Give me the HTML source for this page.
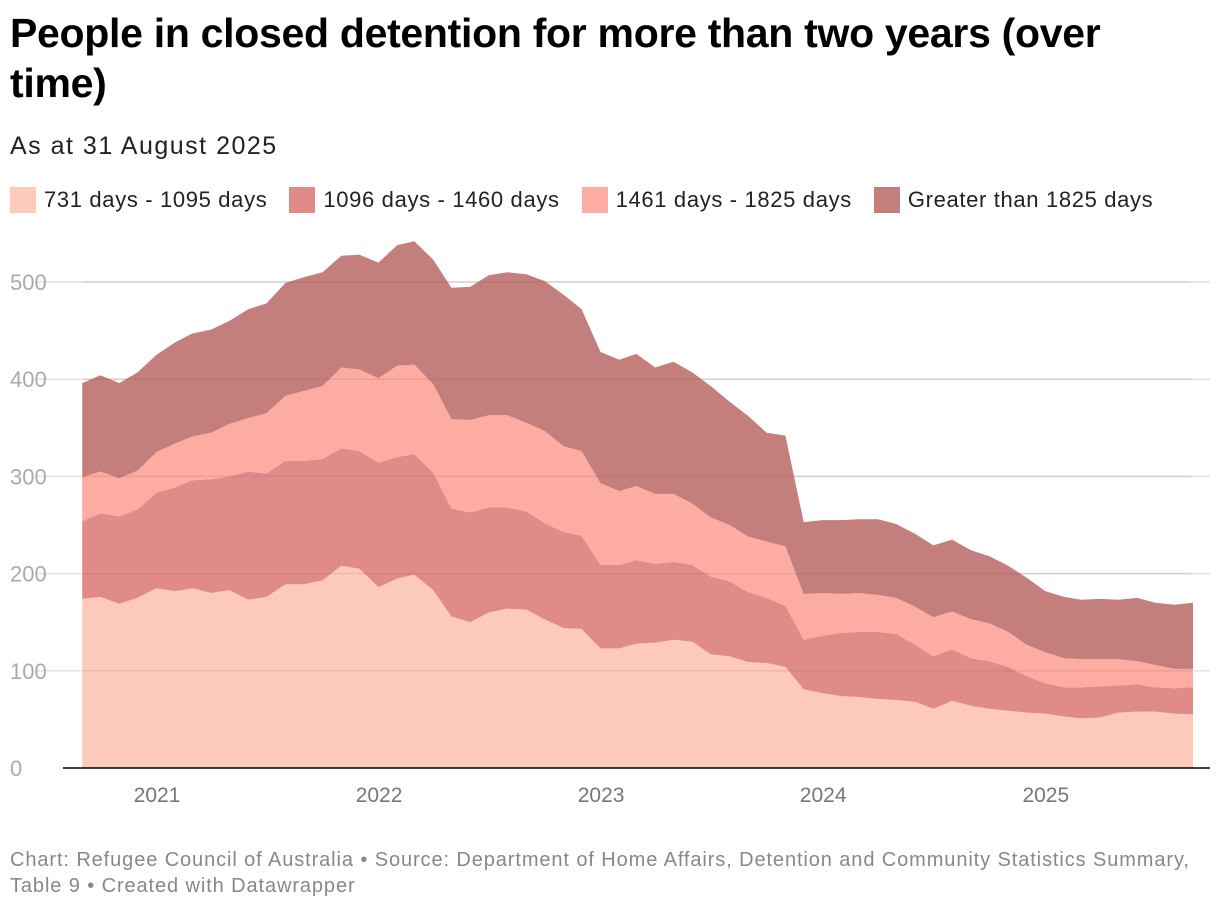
<!DOCTYPE html>
<html><head><meta charset="utf-8"><style>
body{margin:0;background:#fff;font-family:"Liberation Sans",sans-serif;width:1220px;height:910px;overflow:hidden;position:relative}
h1{position:absolute;left:10px;top:8px;margin:0;font-size:41px;line-height:50px;font-weight:bold;color:#000;width:1180px;letter-spacing:-0.3px}
.sub{position:absolute;left:10px;top:132px;font-size:25px;color:#222;letter-spacing:1.5px}
.legend{position:absolute;left:10px;top:187px;font-size:22px;color:#222;display:flex;letter-spacing:0.65px}
.le{display:flex;align-items:center;margin-right:22px}
.sw{width:26px;height:26px;margin-right:8px}
.foot{position:absolute;left:10px;top:847px;font-size:20px;line-height:26px;color:#888;letter-spacing:0.9px;white-space:nowrap}
svg{position:absolute;left:0;top:0}
</style></head><body>
<h1>People in closed detention for more than two years (over time)</h1>
<div class="sub">As at 31 August 2025</div>
<div class="legend">
<div class="le"><div class="sw" style="background:#fdc9b9"></div>731 days - 1095 days</div>
<div class="le"><div class="sw" style="background:#e18b89"></div>1096 days - 1460 days</div>
<div class="le"><div class="sw" style="background:#fdaca2"></div>1461 days - 1825 days</div>
<div class="le"><div class="sw" style="background:#c47e7c"></div>Greater than 1825 days</div>
</div>
<svg id="chart" width="1220" height="910"></svg>
<div class="foot">Chart: Refugee Council of Australia • Source: Department of Home Affairs, Detention and Community Statistics Summary,<br>Table 9 • Created with Datawrapper</div>
<script>
const s1=[174,176,169,175,185,182,185,180,183,173,176,189,189,193,208,205,186,195,199,183,156,150,160,164,163,153,144,143,123,123,128,129,132,130,117,115,109,108,104,81,77,74,73,71,70,68,61,69,64,61,59,57,56,53,51,52,57,58,58,56,55];
const s2=[80,86,90,91,98,107,111,117,117,132,127,127,127,125,121,121,128,125,124,121,111,113,108,104,101,99,99,96,86,86,86,81,80,79,80,77,72,67,63,51,59,65,67,69,68,59,54,53,49,49,45,38,31,30,32,32,28,28,25,26,28];
const s3=[45,43,39,40,42,45,45,48,54,55,62,67,72,75,83,84,87,94,92,91,92,95,95,95,91,95,88,87,84,76,76,72,70,63,61,58,57,58,61,47,44,40,40,38,37,39,40,39,40,39,36,32,32,30,29,28,27,24,23,20,19];
const s4=[97,99,98,101,100,104,106,106,106,112,113,116,117,117,115,118,119,124,127,128,135,137,144,147,153,154,156,146,135,135,136,130,136,135,135,127,124,112,114,74,75,76,76,78,76,75,74,74,71,69,68,69,63,63,61,62,61,65,64,66,68];
const yTicks=[0,100,200,300,400,500];
const xTicks=[2021,2022,2023,2024,2025];
const series=[s1,s2,s3,s4];
const colors=["#fdc9b9","#e18b89","#fdaca2","#c47e7c"];
const names=["series-731-1095","series-1096-1460","series-1461-1825","series-over-1825"];
const dates=s1.map((_,i)=>new Date(2020,8+i,0));
const t0=new Date(2021,0,1).getTime(),yr=365.25*864e5;
const x=d=>157+(d.getTime()-t0)/yr*222.2;
const y=v=>768-v*0.972;
const svg=document.getElementById('chart');
const NS="http://www.w3.org/2000/svg";
function mk(tag,attrs){const e=document.createElementNS(NS,tag);for(const k in attrs)e.setAttribute(k,attrs[k]);svg.appendChild(e);return e;}
yTicks.forEach(t=>{
 if(t>0){const l=mk('line',{x1:36,x2:1210,y1:y(t),y2:y(t),stroke:'#e2e2e2','stroke-width':1.5});
 
 }
 const tx=mk('text',{x:10,y:y(t)+8,'font-size':22,fill:'#aaa','font-family':'Liberation Sans, sans-serif'});
 tx.textContent=t;
 
 
});
let base=s1.map(()=>0);
series.forEach((s,k)=>{
 const top=base.map((b,i)=>b+s[i]);
 let d='M'+dates.map((dt,i)=>x(dt).toFixed(1)+','+y(top[i]).toFixed(1)).join('L');
 for(let i=dates.length-1;i>=0;i--)d+='L'+x(dates[i]).toFixed(1)+','+y(base[i]).toFixed(1);
 const p=mk('path',{d:d+'Z',fill:colors[k]});
 
 
 base=top;
});
yTicks.forEach(t=>{if(t>0){const l=mk('line',{x1:83,x2:1191,y1:y(t),y2:y(t),stroke:'rgba(120,60,60,0.12)','stroke-width':1.5});
 
 }});
const ax=mk('line',{x1:63,x2:1210,y1:768,y2:768,stroke:'#000','stroke-width':1.5});


xTicks.forEach(yv=>{
 const tx=mk('text',{x:x(new Date(yv,0,1)),y:802,'font-size':21,fill:'#777','text-anchor':'middle','font-family':'Liberation Sans, sans-serif'});
 tx.textContent=yv;
 
 
});
</script>
</body></html>
